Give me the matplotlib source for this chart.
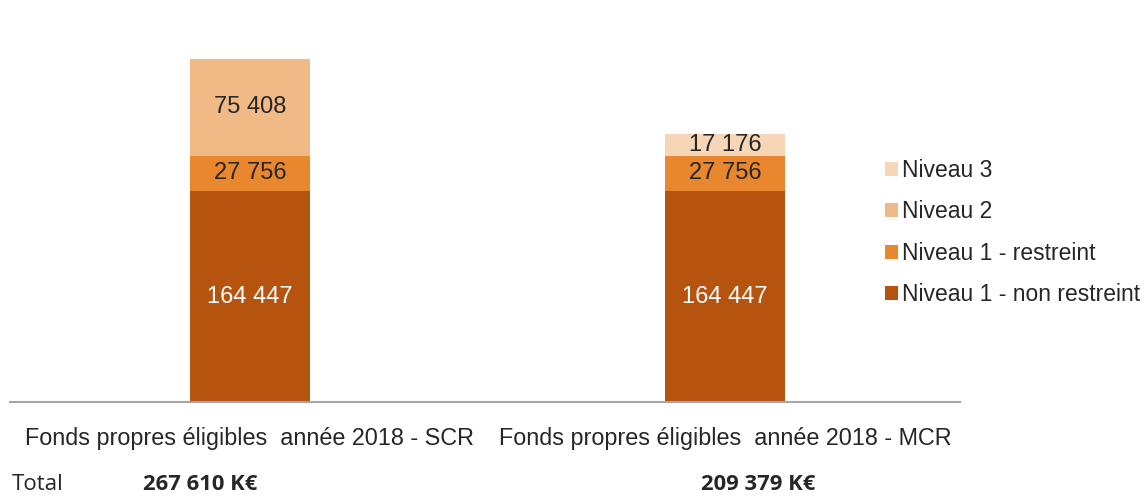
import numpy as np
import matplotlib.pyplot as plt

plt.rcParams['font.family'] = ['Liberation Sans', 'DejaVu Sans']

# données
categories = ["Fonds propres éligibles  année 2018 - SCR",
              "Fonds propres éligibles  année 2018 - MCR"]
series = ["Niveau 1 - non restreint", "Niveau 1 - restreint", "Niveau 2", "Niveau 3"]
n1_non_restreint = [164447, 164447]
n1_restreint = [27756, 27756]
niveau2 = [75408, 0]
niveau3 = [0, 17176]
totals = ["267 610 K€", "209 379 K€"]
totals_xpix = [200, 758]

colors = ["#B5530F", "#E8872D", "#F0B986", "#F6D6B6"]
text_colors = ["white", "#262626", "#262626", "#262626"]

def fmt(v):
    return f"{v:,}".replace(",", " ")

fig = plt.figure(figsize=(11.48, 4.96), dpi=100)
ax = fig.add_axes([10 / 1148, 94 / 496, 950 / 1148, 402 / 496])

x = np.arange(len(categories))
bottom = np.zeros(len(categories))
handles = []
for vals, name, col, tc in zip([n1_non_restreint, n1_restreint, niveau2, niveau3],
                               series, colors, text_colors):
    vals = np.array(vals)
    b = ax.bar(x, vals, 0.2526, bottom=bottom, color=col, label=name)
    handles.append(b)
    for xi, v, b0 in zip(x, vals, bottom):
        if v > 0:
            ax.text(xi, b0 + v / 2, fmt(v), ha='center', va='center',
                    fontsize=17, color=tc)
    bottom = bottom + vals

ax.set_xlim(-0.505, 1.495)
ax.set_ylim(0, 402 * 267610 / 343)
for s in ['top', 'right', 'left']:
    ax.spines[s].set_visible(False)
ax.spines['bottom'].set_color('#A6A6A6')
ax.spines['bottom'].set_linewidth(1.5)
ax.set_yticks([])
ax.set_xticks(x)
ax.set_xticklabels(categories, fontsize=16.8, color='#262626')
ax.tick_params(axis='x', length=0, pad=18)

leg = ax.legend(handles[::-1], series[::-1], loc='upper left',
                bbox_to_anchor=(866 / 950, 252 / 402), frameon=False,
                fontsize=16.5, handlelength=0.55, handleheight=0.55,
                handletextpad=0.2, labelspacing=0.8, borderaxespad=0)
for t in leg.get_texts():
    t.set_color('#262626')

# ligne des totaux
fig.text(12 / 1148, 1 - 484 / 496, "Total", fontsize=16, color='#262626',
         family=['Open Sans', 'DejaVu Sans'], va='center')
for xp, tot in zip(totals_xpix, totals):
    fig.text(xp / 1148, 1 - 484 / 496, tot, fontsize=15.8, color='#262626',
             family=['Open Sans', 'DejaVu Sans'], fontweight='bold',
             ha='center', va='center')

fig.savefig("out.png", dpi=100)
